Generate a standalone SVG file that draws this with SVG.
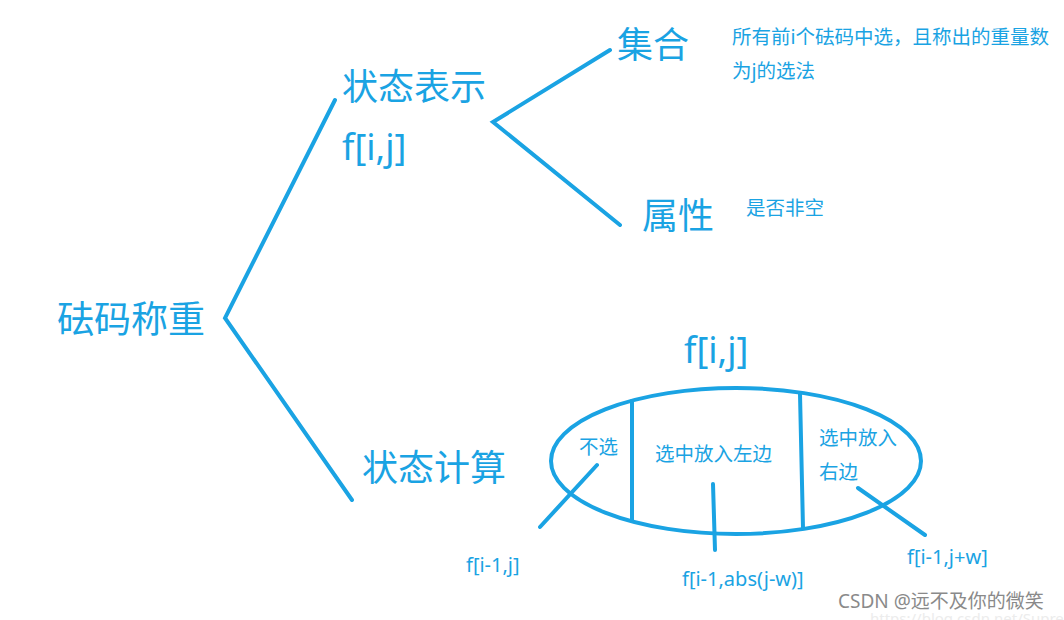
<svg xmlns="http://www.w3.org/2000/svg" width="1064" height="620" viewBox="0 0 1064 620">
<style>
text{font-family:"Noto Sans","Noto Sans CJK SC",sans-serif;fill:#1aa3e3}
.big{font-size:36px}
.sm{font-size:19.5px}
.lt{font-size:20px}
.ln{stroke:#1aa3e3;stroke-width:4;stroke-linecap:round;fill:none}
.wm{fill:#8a8a8a;font-size:19px}
</style>
<rect width="1064" height="620" fill="#fff"/>
<g id="connectors">
<path class="ln" d="M335,100 L225,318 L352,500"/>
<path class="ln" d="M610,50 L493,122 L620,225"/>
<path class="ln" d="M597,465 L540,527"/>
<path class="ln" d="M713,484 L715,550"/>
<path class="ln" d="M858,488 L925,535"/>
</g>
<g id="root"><text class="big" x="57" y="333" style="font-size:37px">砝码称重</text></g>
<g id="state-rep"><text class="big" x="342" y="100">状态表示</text><text class="big" x="342" y="160">f[i,j]</text></g>
<g id="set"><text class="big" x="617" y="58">集合</text></g>
<g id="set-desc"><text class="sm" x="732" y="44">所有前i个砝码中选，且称出的重量数</text><text class="sm" x="732" y="78">为j的选法</text></g>
<g id="attr"><text class="big" x="642" y="229">属性</text></g>
<g id="attr-desc"><text class="sm" x="746" y="215">是否非空</text></g>
<g id="state-calc"><text class="big" x="362" y="481">状态计算</text></g>
<g id="fij"><text class="big" x="684" y="363">f[i,j]</text></g>
<g id="ellipse">
<ellipse class="ln" cx="736" cy="461" rx="185" ry="73"/>
<path class="ln" d="M632,401 L632,521"/>
<path class="ln" d="M800,394 L803,528"/>
<text class="sm" x="579" y="454">不选</text>
<text class="sm" x="655" y="461">选中放入左边</text>
<text class="sm" x="819" y="445">选中放入</text>
<text class="sm" x="819" y="479">右边</text>
</g>
<g id="res1"><text class="lt" x="466" y="572">f[i-1,j]</text></g>
<g id="res2"><text class="lt" x="682" y="586">f[i-1,abs(j-w)]</text></g>
<g id="res3"><text class="lt" x="907" y="564">f[i-1,j+w]</text></g>
<g id="watermark"><text x="870" y="624" style="fill:#ececec;font-size:15px">https://blog.csdn.net/Supre</text><text class="wm" x="838" y="608">CSDN @远不及你的微笑</text></g>
</svg>
